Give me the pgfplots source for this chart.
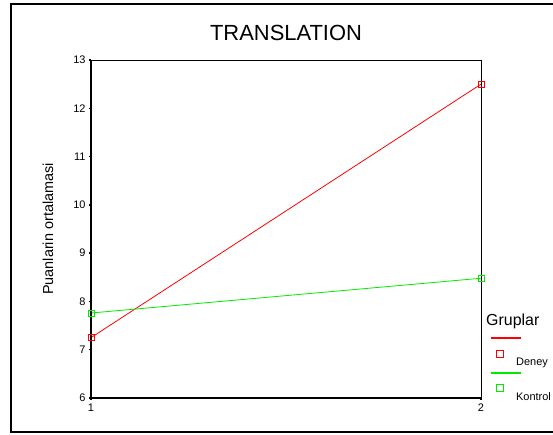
\documentclass[border=0pt]{standalone}
\usepackage{fontspec}
\setmainfont{Liberation Sans}
\usepackage{pgfplots}
\pgfplotsset{compat=1.18}
\definecolor{dred}{RGB}{255,0,0}
\definecolor{dgreen}{RGB}{0,235,0}
\pgfplotsset{
  grlegend/.style={legend image code/.code={
    \path[overlay] (0,0);
    \draw[draw=#1,overlay,line width=0.8bp] (-19.5bp,5bp) rectangle (-12.5bp,12bp);
    \fill[fill=#1,overlay] (-25bp,23.6bp) rectangle (4bp,24.5bp);
  }},
}
\begin{document}
\begin{tikzpicture}[x=1bp,y=1bp]
\useasboundingbox (0,0) rectangle (553,435);
% outer frame
\draw[line width=2.5bp] (11,431) rectangle (565,3);
\node[font=\fontsize{22}{26}\selectfont] at (286,402) {TRANSLATION};
\node[rotate=90,font=\fontsize{14.5}{17}\selectfont] at (48,206) {Puanlarin ortalamasi};
\node[anchor=west,font=\fontsize{16}{19}\selectfont,inner sep=0pt] at (486,114) {Gruplar};
\begin{axis}[
  at={(91bp,37bp)}, anchor=south west,
  scale only axis, width=390bp, height=338bp,
  xmin=1, xmax=2, ymin=6, ymax=13,
  xtick={1,2}, ytick={6,7,...,13},
  tick align=outside, tick pos=left,
  major tick length=2bp,
  every tick/.style={black,line width=1.5bp},
  axis line style={line width=0.8bp},
  /pgf/number format/assume math mode=true,
  tick label style={font=\fontsize{11}{13}\selectfont},
  clip=false,
  legend style={at={(rel axis cs:1.082,0.126)}, anchor=north west, draw=none, fill=none,
    font=\fontsize{11}{13}\selectfont, row sep=25.5bp,
    nodes={inner sep=0pt}},
  legend cell align=left,
]
\addplot[dred, line width=0.8bp, mark=square, mark size=3bp,
  grlegend={dred}] coordinates {(1,7.25) (2,12.5)};
\addlegendentry{Deney}
\addplot[dgreen, line width=0.8bp, mark=square, mark size=3bp,
  grlegend={dgreen}] coordinates {(1,7.76) (2,8.48)};
\addlegendentry{Kontrol}
\draw[line width=1.8bp] (rel axis cs:0,1) -- (rel axis cs:0,0) -- (rel axis cs:1,0);
\end{axis}
\end{tikzpicture}
\end{document}
